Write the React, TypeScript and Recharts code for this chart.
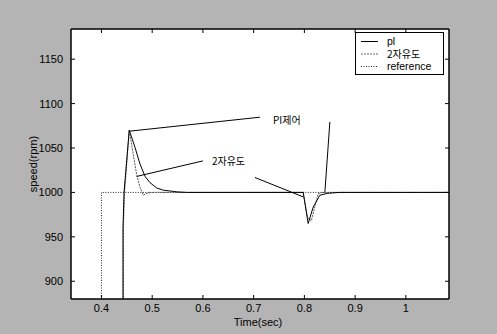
import React from 'react';
import {
  LineChart,
  Line,
  XAxis,
  YAxis,
  CartesianGrid,
  ReferenceLine,
  ReferenceDot,
  Legend,
  Label,
} from 'recharts';

// step response of the speed loop, time in sec, speed in rpm
const refSpeed = [
  { t: 0.34, v: 0 },
  { t: 0.4, v: 0 },
  { t: 0.4, v: 1000 },
  { t: 1.085, v: 1000 },
];

const piSpeed = [
  { t: 0.4418, v: 0 },
  { t: 0.4425, v: 960 },
  { t: 0.4445, v: 1000 },
  { t: 0.4548, v: 1070 },
  { t: 0.466, v: 1051 },
  { t: 0.476, v: 1032 },
  { t: 0.486, v: 1018 },
  { t: 0.4956, v: 1011 },
  { t: 0.509, v: 1005 },
  { t: 0.522, v: 1002.5 },
  { t: 0.548, v: 1000.7 },
  { t: 0.568, v: 1000 },
  { t: 0.7976, v: 1000 },
  { t: 0.8075, v: 965 },
  { t: 0.8173, v: 983.5 },
  { t: 0.8305, v: 996.8 },
  { t: 0.845, v: 999 },
  { t: 0.87, v: 1000 },
  { t: 1.085, v: 1000 },
];

const twoDofSpeed = [
  { t: 0.4425, v: 0 },
  { t: 0.4432, v: 960 },
  { t: 0.4455, v: 1000 },
  { t: 0.4548, v: 1070 },
  { t: 0.462, v: 1045 },
  { t: 0.4694, v: 1020 },
  { t: 0.4759, v: 1006 },
  { t: 0.4824, v: 997 },
  { t: 0.4916, v: 999.5 },
  { t: 0.5015, v: 1000 },
  { t: 0.7976, v: 1000 },
  { t: 0.806, v: 972 },
  { t: 0.8135, v: 968 },
  { t: 0.8272, v: 998.5 },
  { t: 0.835, v: 1000 },
  { t: 1.085, v: 1000 },
];

const xTicks = [0.4, 0.5, 0.6, 0.7, 0.8, 0.9, 1];
const yTicks = [900, 950, 1000, 1050, 1100, 1150];

// annotation arrows: [from, to] in (t, v)
const piPointers = [
  [{ x: 0.4562, y: 1069 }, { x: 0.7123, y: 1084.7 }],
  [{ x: 0.8502, y: 1079.4 }, { x: 0.8404, y: 1000.6 }],
];
const dofPointers = [
  [{ x: 0.4694, y: 1018 }, { x: 0.6, y: 1035.5 }],
  [{ x: 0.7025, y: 1016.8 }, { x: 0.7976, y: 995 }],
];
const notes = [
  { t: 0.738, v: 1081.3, text: 'PI제어' },
  { t: 0.6177, v: 1035.1, text: '2자유도' },
];

const legendItems = [
  { name: 'pl', dash: undefined, color: '#000' },
  { name: '2자유도', dash: '2 1', color: '#666' },
  { name: 'reference', dash: '1 1.5', color: '#222' },
];

const FONT = '"Liberation Sans Narrow", "Liberation Sans", Arial, sans-serif';
const KFONT = '"Noto Sans CJK KR", "Liberation Sans", sans-serif';
const BOX = { stroke: '#000', strokeWidth: 1.5 };

const LeftTick = ({ x, y, payload }: any) => (
  <g>
    <line x1={x + 8} x2={x + 12} y1={y} y2={y} stroke="#000" />
    <text x={x} y={y} dy={4} textAnchor="end" fontSize={11} fontFamily={FONT} fill="#000">
      {payload.value}
    </text>
  </g>
);

const BottomTick = ({ x, y, payload }: any) => (
  <g>
    <line x1={x} x2={x} y1={y - 4} y2={y - 8} stroke="#000" />
    <text x={x} y={y + 9} textAnchor="middle" fontSize={11} fontFamily={FONT} fill="#000">
      {String(payload.value)}
    </text>
  </g>
);

const TopTick = ({ x, y }: any) => <line x1={x} x2={x} y1={y} y2={y + 4} stroke="#000" />;
const RightTick = ({ x, y }: any) => <line x1={x - 4} x2={x} y1={y} y2={y} stroke="#000" />;

const LegendBox = () => (
  <svg width={89} height={43} style={{ display: 'block' }}>
    <rect x={0.5} y={0.5} width={88} height={42} fill="#fff" stroke="#000" />
    {legendItems.map((it, i) => (
      <g key={it.name}>
        <line
          x1={6}
          x2={23}
          y1={9.5 + i * 12.5}
          y2={9.5 + i * 12.5}
          stroke={it.color}
          strokeDasharray={it.dash}
        />
        <text
          x={32}
          y={13 + i * 12.5}
          fontSize={i === 1 ? 10 : 10.5}
          fontFamily={i === 1 ? KFONT : FONT}
          fill="#000"
        >
          {it.name}
        </text>
      </g>
    ))}
  </svg>
);

const NoteLabel = (text: string) => (props: any) => {
  const { viewBox } = props;
  return (
    <text
      x={viewBox.x}
      y={viewBox.y}
      dy={4}
      fontSize={10}
      fontFamily={KFONT}
      fill="#000"
    >
      {text}
    </text>
  );
};

export default function App() {
  return (
    <div style={{ position: 'absolute', left: 0, top: 0, width: 497, height: 334, background: '#b4b4b4' }}>
      <LineChart width={497} height={334} margin={{ top: 28, right: 47, bottom: 0, left: 0 }}>
        <CartesianGrid fill="#fff" horizontal={false} vertical={false} />
        <XAxis
          xAxisId="b"
          dataKey="t"
          type="number"
          domain={[0.34, 1.085]}
          ticks={xTicks}
          allowDataOverflow
          height={35}
          tickSize={0}
          tickMargin={4}
          tickLine={false}
          axisLine={BOX}
          tick={<BottomTick />}
          interval={0}
        >
          <Label
            value="Time(sec)"
            position="insideBottom"
            offset={8}
            dx={-2}
            style={{ fontSize: 11, fontFamily: FONT, fill: '#000' }}
          />
        </XAxis>
        {/* mirrored top and right axes close the box and carry inner ticks */}
        <XAxis
          xAxisId="t"
          orientation="top"
          dataKey="t"
          type="number"
          domain={[0.34, 1.085]}
          ticks={xTicks}
          allowDataOverflow
          height={1}
          tickSize={0}
          tickMargin={0}
          tickLine={false}
          axisLine={BOX}
          tick={<TopTick />}
          interval={0}
        />
        <YAxis
          yAxisId="l"
          type="number"
          domain={[880, 1184]}
          ticks={yTicks}
          allowDataOverflow
          width={71}
          tickSize={0}
          tickMargin={8}
          tickLine={false}
          axisLine={BOX}
          tick={<LeftTick />}
          interval={0}
        >
          <Label
            content={({ viewBox }: any) => {
              const cx = viewBox.x + 33;
              const cy = viewBox.y + viewBox.height / 2;
              return (
                <text
                  x={cx}
                  y={cy}
                  transform={`rotate(-90 ${cx} ${cy})`}
                  textAnchor="middle"
                  dy={4}
                  fontSize={11}
                  fontFamily={FONT}
                  fill="#000"
                >
                  speed(rpm)
                </text>
              );
            }}
          />
        </YAxis>
        <YAxis
          yAxisId="r"
          orientation="right"
          type="number"
          domain={[880, 1184]}
          ticks={yTicks}
          allowDataOverflow
          width={1}
          tickSize={0}
          tickMargin={0}
          tickLine={false}
          axisLine={BOX}
          tick={<RightTick />}
          interval={0}
        />
        {/* middle/center keeps the legend out of the plot offset */}
        <Legend
          layout="horizontal"
          verticalAlign="middle"
          align="center"
          content={<LegendBox />}
          wrapperStyle={{ position: 'absolute', left: 355, top: 32, width: 89, height: 43 }}
        />
        <Line
          xAxisId="b"
          yAxisId="l"
          data={refSpeed}
          dataKey="v"
          name="reference"
          stroke="#222"
          strokeWidth={1}
          strokeDasharray="1 1.5"
          dot={false}
          isAnimationActive={false}
        />
        <Line
          xAxisId="b"
          yAxisId="l"
          data={twoDofSpeed}
          dataKey="v"
          name="2자유도"
          stroke="#555"
          strokeWidth={1}
          strokeDasharray="2 1"
          dot={false}
          isAnimationActive={false}
        />
        <Line
          xAxisId="b"
          yAxisId="l"
          data={piSpeed}
          dataKey="v"
          name="pl"
          stroke="#000"
          strokeWidth={1}
          dot={false}
          isAnimationActive={false}
        />
        {[...piPointers, ...dofPointers].map((seg, i) => (
          <ReferenceLine
            key={i}
            xAxisId="b"
            yAxisId="l"
            segment={seg}
            stroke="#000"
            strokeWidth={1}
            ifOverflow="visible"
          />
        ))}
        {notes.map((n) => (
          <ReferenceDot
            key={n.text}
            xAxisId="b"
            yAxisId="l"
            x={n.t}
            y={n.v}
            r={0}
            fill="none"
            stroke="none"
            label={{ content: NoteLabel(n.text) }}
          />
        ))}
      </LineChart>
    </div>
  );
}
